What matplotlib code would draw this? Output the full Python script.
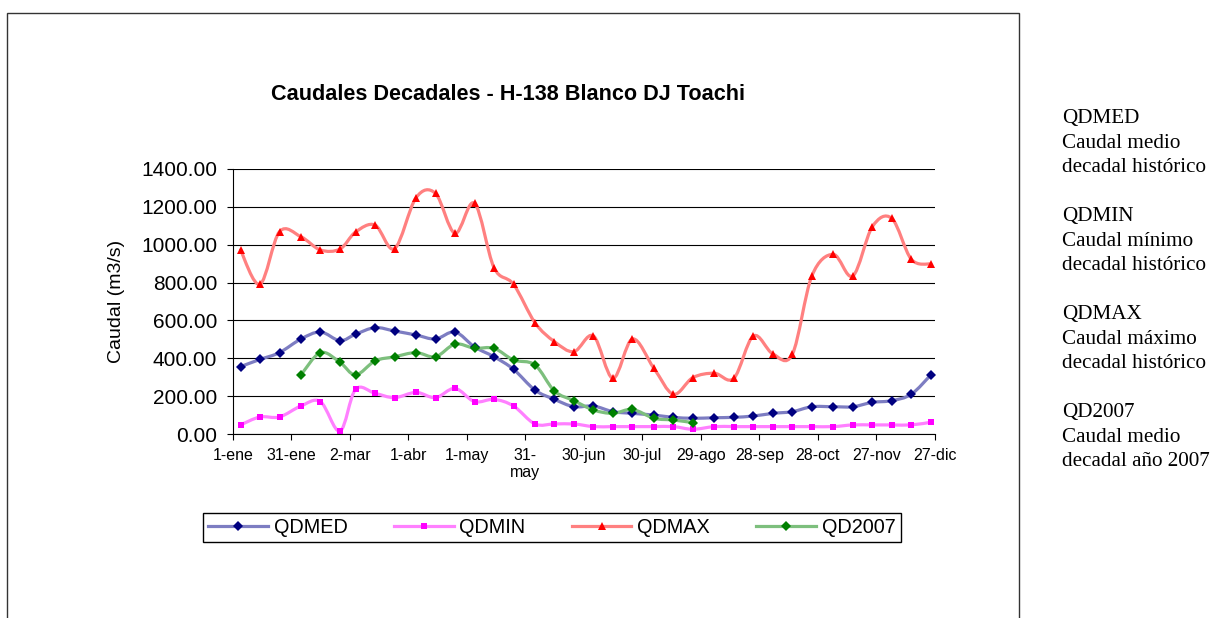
import numpy as np
import pandas as pd
import matplotlib
matplotlib.use('Agg')
import matplotlib.pyplot as plt
from matplotlib.path import Path
from matplotlib.patches import PathPatch, Rectangle
from matplotlib.lines import Line2D

# fechas decadales (dias 5, 15 y 25 de cada mes)
months = list(range(1, 13))
decade_days = [5, 15, 25]

qdmed = [356, 394, 430, 502, 539, 493, 527, 562, 544, 523, 502, 539,
         460, 408, 342, 232, 183, 144, 148, 118, 109, 100, 88, 83,
         86, 88, 95, 109, 118, 144, 144, 144, 167, 176, 210, 312]
qdmin = [48, 90, 90, 148, 171, 15, 236, 215, 192, 220, 192, 241,
         171, 183, 148, 53, 53, 53, 39, 39, 39, 39, 39, 25,
         39, 39, 39, 39, 39, 39, 39, 48, 48, 48, 48, 62]
qdmax = [972, 791, 1069, 1042, 972, 977, 1067, 1104, 979, 1248, 1271, 1060,
         1219, 879, 791, 588, 488, 435, 518, 294, 502, 347, 210, 298,
         321, 294, 518, 423, 421, 835, 949, 835, 1095, 1139, 923, 898]
qd2007 = [None, None, None, 312, 430, 379, 312, 386, 408, 430, 408, 475,
          453, 453, 391, 365, 227, 176, 127, 109, 130, 83, 74, 60,
          None, None, None, None, None, None, None, None, None, None, None, None]

tick_days = [0, 30, 60, 90, 120, 150, 180, 210, 240, 270, 300, 330, 360]
tick_labels = ['1-ene', '31-ene', '2-mar', '1-abr', '1-may', '31-\nmay', '30-jun',
               '30-jul', '29-ago', '28-sep', '28-oct', '27-nov', '27-dic']

notes = [['QDMED', 'Caudal medio', 'decadal histórico'],
         ['QDMIN', 'Caudal mínimo', 'decadal histórico'],
         ['QDMAX', 'Caudal máximo', 'decadal histórico'],
         ['QD2007', 'Caudal medio', 'decadal año 2007']]


def smooth_path(x, y):
    # curva suavizada tipo Excel (Catmull-Rom -> Bezier)
    verts = [(x[0], y[0])]
    codes = [Path.MOVETO]
    n = len(x)
    for i in range(n - 1):
        a = max(i - 1, 0)
        b = min(i + 2, n - 1)
        c1 = (x[i] + (x[i + 1] - x[a]) / 6.0, y[i] + (y[i + 1] - y[a]) / 6.0)
        c2 = (x[i + 1] - (x[b] - x[i]) / 6.0, y[i + 1] - (y[b] - y[i]) / 6.0)
        verts += [c1, c2, (x[i + 1], y[i + 1])]
        codes += [Path.CURVE4] * 3
    return Path(verts, codes)


def main():
    plt.rcParams['font.family'] = ['Liberation Sans', 'DejaVu Sans']

    dates = pd.to_datetime(['2007-%02d-%02d' % (m, d) for m in months for d in decade_days])
    xdays = np.array((dates - pd.Timestamp('2007-01-01')).days, dtype=float)

    fig = plt.figure(figsize=(12.11, 6.18), dpi=100)
    fig.patch.set_facecolor('white')

    # marco del grafico
    fig.add_artist(Rectangle((7.3 / 1211, -0.05), 1012 / 1211, 1.05 - 13.3 / 618,
                             transform=fig.transFigure, fill=False,
                             edgecolor='#333333', lw=1.0))

    ax = fig.add_axes([232.7 / 1211, 1 - 434 / 618, 702 / 1211, 265 / 618])

    series = [
        ('QDMED', qdmed, '#7d7dc2', 'D', '#000080', 4.8),
        ('QDMIN', qdmin, '#ff80ff', 's', '#ff00ff', 4.8),
        ('QDMAX', qdmax, '#ff8080', '^', '#ff0000', 6.3),
        ('QD2007', qd2007, '#7dbf7d', 'D', '#008000', 4.8),
    ]
    handles = []
    for name, vals, lc, mk, mc, ms in series:
        y = np.array([np.nan if v is None else v for v in vals], dtype=float)
        ok = ~np.isnan(y)
        xs, ys = xdays[ok], y[ok]
        ax.add_patch(PathPatch(smooth_path(xs, ys), fill=False, edgecolor=lc,
                               lw=2.3, capstyle='round', joinstyle='round'))
        ax.plot(xs, ys, linestyle='none', marker=mk, color=mc, markersize=ms,
                markeredgewidth=0)
        handles.append(Line2D([], [], color=lc, lw=2.3, marker=mk, markersize=ms,
                              markerfacecolor=mc, markeredgecolor=mc,
                              markeredgewidth=0, label=name))

    ax.set_xlim(0, 360)
    ax.set_ylim(0, 1400)
    ax.set_xticks(tick_days)
    ax.set_xticklabels(tick_labels)
    ax.set_yticks(range(0, 1401, 200))
    ax.set_yticklabels(['%.2f' % v for v in range(0, 1401, 200)])
    ax.grid(axis='y', color='black', lw=0.8)
    ax.set_axisbelow(True)
    for s in ['top', 'right']:
        ax.spines[s].set_visible(False)
    for s in ['left', 'bottom']:
        ax.spines[s].set_linewidth(0.8)
    ax.tick_params(axis='y', length=4.3, width=0.8, pad=7, labelsize=15)
    ax.tick_params(axis='x', length=4, width=0.8, pad=6, labelsize=11.5)
    ax.set_ylabel('Caudal (m3/s)', fontsize=14)
    ax.yaxis.set_label_coords(-0.153, 0.5)

    fig.text(508 / 1211, 1 - 95 / 618, 'Caudales Decadales - H-138 Blanco DJ Toachi',
             ha='center', va='center', fontsize=15.6, fontweight='bold')

    leg = fig.legend(handles=handles, loc='center', ncol=4, mode='expand',
                     bbox_to_anchor=(203.3 / 1211, 1 - 543 / 618, 697.4 / 1211, 31 / 618),
                     borderaxespad=0, fontsize=14.3, handlelength=3, handletextpad=0.3,
                     borderpad=0.25, fancybox=False, framealpha=1)
    leg.get_frame().set_edgecolor('black')
    leg.get_frame().set_linewidth(1.0)

    for i, group in enumerate(notes):
        for j, line in enumerate(group):
            yb = 123.5 + (i * 4 + j) * 24.5
            fig.text(1061.7 / 1211, 1 - yb / 618, line, ha='left', va='baseline',
                     fontsize=15.2, family=['Liberation Serif', 'DejaVu Serif'])

    fig.savefig('out.png', dpi=100)


if __name__ == '__main__':
    main()
